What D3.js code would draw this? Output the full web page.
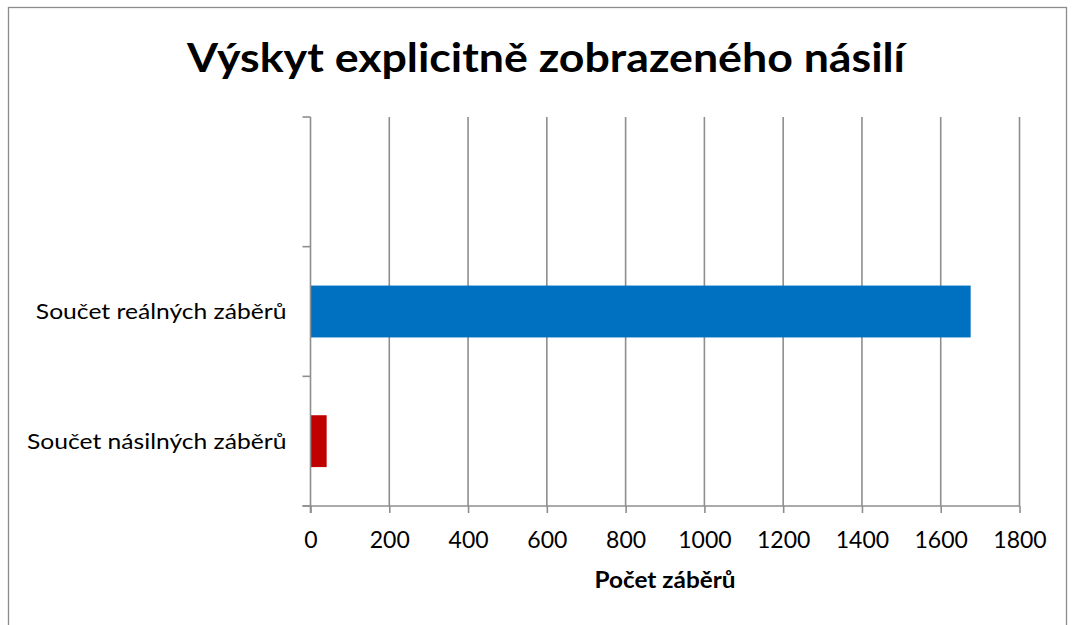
<!DOCTYPE html>
<html><head><meta charset="utf-8">
<script src="https://cdn.jsdelivr.net/npm/d3@7"></script>
<style>body{margin:0;background:#fff}svg{display:block}</style>
</head><body>
<script>
const categories = ["", "Součet reálných záběrů", "Součet násilných záběrů"];
const values = [null, 1676, 41];
const barColors = [null, "#0070C0", "#C00000"];
const xTicks = [0, 200, 400, 600, 800, 1000, 1200, 1400, 1600, 1800];
const title = "Výskyt explicitně zobrazeného násilí";
const xTitle = "Počet záběrů";

(function () {
const W = 1074, H = 625;
const svg = d3.select("body").append("svg").attr("width", W).attr("height", H);
const font = "Lato, 'Open Sans', sans-serif";

svg.append("rect").attr("x", 8.5).attr("y", 7.5).attr("width", 1058).attr("height", 640)
  .attr("fill", "none").attr("stroke", "#8c8c8c").attr("stroke-width", 1.3);

const pLeft = 310.5, pRight = 1019.5, pTop = 117, pBottom = 506;
const x = d3.scaleLinear().domain([0, 1800]).range([pLeft, pRight]);
const y = d3.scaleBand().domain(categories).range([pTop, pBottom]).padding(0);

const grid = "#8e8e8e";
svg.append("g").selectAll("line").data(xTicks.slice(1)).join("line")
  .attr("x1", d => x(d)).attr("x2", d => x(d)).attr("y1", pTop).attr("y2", pBottom)
  .attr("stroke", grid).attr("stroke-width", 1.6);

svg.append("g").selectAll("rect")
  .data(categories.map((c, i) => ({c, v: values[i], col: barColors[i]})).filter(d => d.v != null))
  .join("rect")
  .attr("x", x(0)).attr("width", d => x(d.v) - x(0))
  .attr("y", d => y(d.c) + y.bandwidth() * 0.3).attr("height", y.bandwidth() * 0.4)
  .attr("fill", d => d.col);

const xAxis = d3.axisBottom(x).tickValues(xTicks).tickSize(7).tickPadding(19).tickFormat(d3.format("d"));
const gx = svg.append("g").attr("transform", `translate(0,${pBottom})`).call(xAxis);
gx.select(".domain").attr("stroke", grid).attr("stroke-width", 1.6).attr("d", `M${pLeft - 8},0H${pRight}`);
gx.selectAll(".tick line").attr("stroke", grid).attr("stroke-width", 1.6);
gx.selectAll(".tick text").attr("font-family", font).attr("font-size", 23).attr("fill", "#000");

const gy = svg.append("g").attr("transform", `translate(${pLeft},0)`);
gy.append("line").attr("x1", 0).attr("x2", 0).attr("y1", pTop).attr("y2", pBottom + 7)
  .attr("stroke", grid).attr("stroke-width", 1.6);
const boundaries = categories.map(c => y(c)).concat([pBottom]);
gy.selectAll("line.t").data(boundaries).join("line").attr("class", "t")
  .attr("x1", -8).attr("x2", 0).attr("y1", d => d).attr("y2", d => d)
  .attr("stroke", grid).attr("stroke-width", 1.6);
gy.selectAll("text").data(categories.filter(c => c)).join("text")
  .attr("x", -24).attr("y", d => y(d) + y.bandwidth() / 2).attr("dy", "0.35em")
  .attr("text-anchor", "end").attr("font-family", font).attr("font-size", 22).attr("fill", "#000")
  .text(d => d)
  .each(function () {
    const w = this.getComputedTextLength();
    d3.select(this).attr("textLength", w * 1.12).attr("lengthAdjust", "spacingAndGlyphs");
  });

svg.append("text").attr("x", 546).attr("y", 72).attr("text-anchor", "middle")
  .attr("font-family", font).attr("font-weight", "bold").attr("font-size", 41).attr("fill", "#000")
  .attr("textLength", 718).attr("lengthAdjust", "spacingAndGlyphs")
  .text(title);

svg.append("text").attr("x", 665).attr("y", 588).attr("text-anchor", "middle")
  .attr("font-family", font).attr("font-weight", "bold").attr("font-size", 22).attr("fill", "#000")
  .attr("textLength", 141).attr("lengthAdjust", "spacingAndGlyphs")
  .text(xTitle);
})();
</script>
</body></html>
